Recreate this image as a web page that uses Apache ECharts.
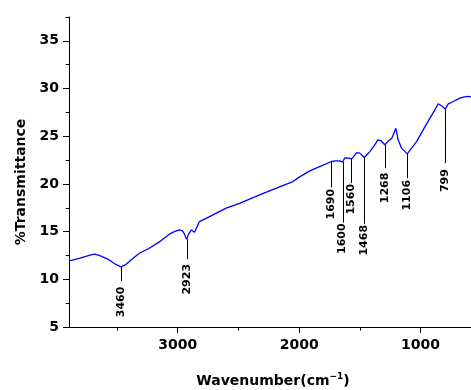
<!DOCTYPE html>
<html><head><meta charset="utf-8">
<script src="https://cdn.jsdelivr.net/npm/echarts@6/dist/echarts.min.js"></script>
<style>html,body{margin:0;padding:0;background:#fff}#c{width:471px;height:390px}</style>
</head><body><div id="c"></div>
<script>
const wavenumber = [3894,3811,3729,3687,3646,3564,3522,3467,3432,3374,3316,3234,3151,3069,3027,2986,2961,2945,2926,2912,2887,2862,2837,2821,2738,2601,2491,2326,2161,2051,1996,1913,1831,1734,1699,1666,1643,1625,1600,1569,1550,1526,1501,1463,1418,1377,1352,1328,1295,1270,1237,1204,1185,1157,1110,1074,1033,979,923,882,855,827,797,772,731,676,648,615,585];
const transmittance = [11.93,12.19,12.50,12.63,12.50,12.03,11.66,11.30,11.51,12.14,12.73,13.26,13.92,14.73,15.00,15.18,15.07,14.76,14.20,14.71,15.18,14.94,15.60,16.05,16.57,17.46,17.96,18.85,19.69,20.25,20.74,21.37,21.82,22.35,22.42,22.42,22.28,22.70,22.73,22.63,22.89,23.29,23.23,22.77,23.39,24.10,24.62,24.55,24.10,24.44,24.80,25.83,24.62,23.75,23.15,23.75,24.44,25.67,26.90,27.77,28.40,28.19,27.84,28.40,28.64,29.00,29.10,29.17,29.13];
const peakLabels = ['3460','2923','1690','1600','1560','1468','1268','1106','799'];
const peakWn = [3467,2926,1734,1643,1569,1463,1295,1110,797];
const peakTop = [11.30,14.20,22.35,22.28,22.63,22.77,24.10,23.15,27.84];
const peakBottom = [9.83,12.10,19.64,15.94,20.08,15.81,21.65,20.60,22.18];
const peakLabelTop = [9.23,11.61,19.48,15.86,20.00,15.70,21.19,20.42,21.55];
const xMajorTicks = [1000,2000,3000];
const xMinorTicks = [1500,2500,3500];
const yMajorTicks = [5,10,15,20,25,30,35];
const yMinorTicks = [7.5,12.5,17.5,22.5,27.5,32.5,37.5];

const FONT = '"DejaVu Sans", sans-serif';
const chart = echarts.init(document.getElementById('c'), null, {renderer:'canvas'});
const lineData = wavenumber.map((w, i) => [w, transmittance[i]]);
const peakData = peakWn.map((w, i) => [w, peakTop[i], peakBottom[i], peakLabelTop[i]]);
const XMIN = 585, XMAX = 3895, YMIN = 5, YMAX = 37.5;
const plain = v => String(v);

chart.setOption({
  animation: false,
  backgroundColor: '#fff',
  grid: {left: 69, right: 0, top: 17, bottom: 63, containLabel: false},
  xAxis: [
    {type:'value', min:XMIN, max:XMAX, inverse:true, position:'bottom',
     axisLine:{show:true, onZero:false, lineStyle:{color:'#000', width:1}},
     axisTick:{show:true, customValues:xMajorTicks, length:6, lineStyle:{color:'#000', width:1}},
     axisLabel:{customValues:xMajorTicks, formatter:plain, fontFamily:FONT, fontWeight:'bold', fontSize:14, color:'#000', margin:11},
     splitLine:{show:false}},
    {type:'value', min:XMIN, max:XMAX, inverse:true, position:'bottom', gridIndex:0,
     axisLine:{show:false, onZero:false},
     axisTick:{show:true, customValues:xMinorTicks, length:3.5, lineStyle:{color:'#000', width:1}},
     axisLabel:{show:false}, splitLine:{show:false}}
  ],
  yAxis: [
    {type:'value', min:YMIN, max:YMAX, position:'left',
     axisLine:{show:true, onZero:false, lineStyle:{color:'#000', width:1}},
     axisTick:{show:true, customValues:yMajorTicks, length:6, lineStyle:{color:'#000', width:1}},
     axisLabel:{customValues:yMajorTicks, formatter:plain, fontFamily:FONT, fontWeight:'bold', fontSize:14, color:'#000', margin:10},
     splitLine:{show:false}},
    {type:'value', min:YMIN, max:YMAX, position:'left', gridIndex:0,
     axisLine:{show:false, onZero:false},
     axisTick:{show:true, customValues:yMinorTicks, length:3.5, lineStyle:{color:'#000', width:1}},
     axisLabel:{show:false}, splitLine:{show:false}}
  ],
  graphic: [
    {type:'text', x:21, y:182, rotation:Math.PI/2,
     style:{text:'%Transmittance', font:'bold 14px ' + FONT, fill:'#000', align:'center', verticalAlign:'middle'}},
    {type:'text', x:273, y:381,
     style:{text:'{a|Wavenumber(cm}{s|−1}{a|)}', align:'center', verticalAlign:'middle',
       rich:{a:{font:'bold 14px ' + FONT, fill:'#000', color:'#000'},
             s:{font:'bold 9px ' + FONT, fill:'#000', color:'#000', padding:[0,0,8,0]}}}}
  ],
  series: [
    {type:'line', xAxisIndex:0, yAxisIndex:0, data:lineData, showSymbol:false, symbol:'none',
     lineStyle:{color:'#0000ff', width:1.3}, z:3},
    {type:'custom', xAxisIndex:0, yAxisIndex:0, data:peakData, z:4,
     encode:{x:0, y:[1,2,3]},
     renderItem: function(params, api) {
       const x = api.value(0);
       const p1 = api.coord([x, api.value(1)]);
       const p2 = api.coord([x, api.value(2)]);
       const p3 = api.coord([x, api.value(3)]);
       const px = Math.round(p1[0]) + 0.5;
       return {type:'group', children:[
         {type:'line', shape:{x1:px, y1:p1[1], x2:px, y2:p2[1]}, style:{stroke:'#000', lineWidth:1}},
         {type:'text', x:p3[0], y:p3[1], rotation:Math.PI/2,
          style:{text:peakLabels[params.dataIndex], font:'bold 11px ' + FONT, fill:'#000', align:'right', verticalAlign:'middle'}}
       ]};
     }}
  ]
});
</script></body></html>
